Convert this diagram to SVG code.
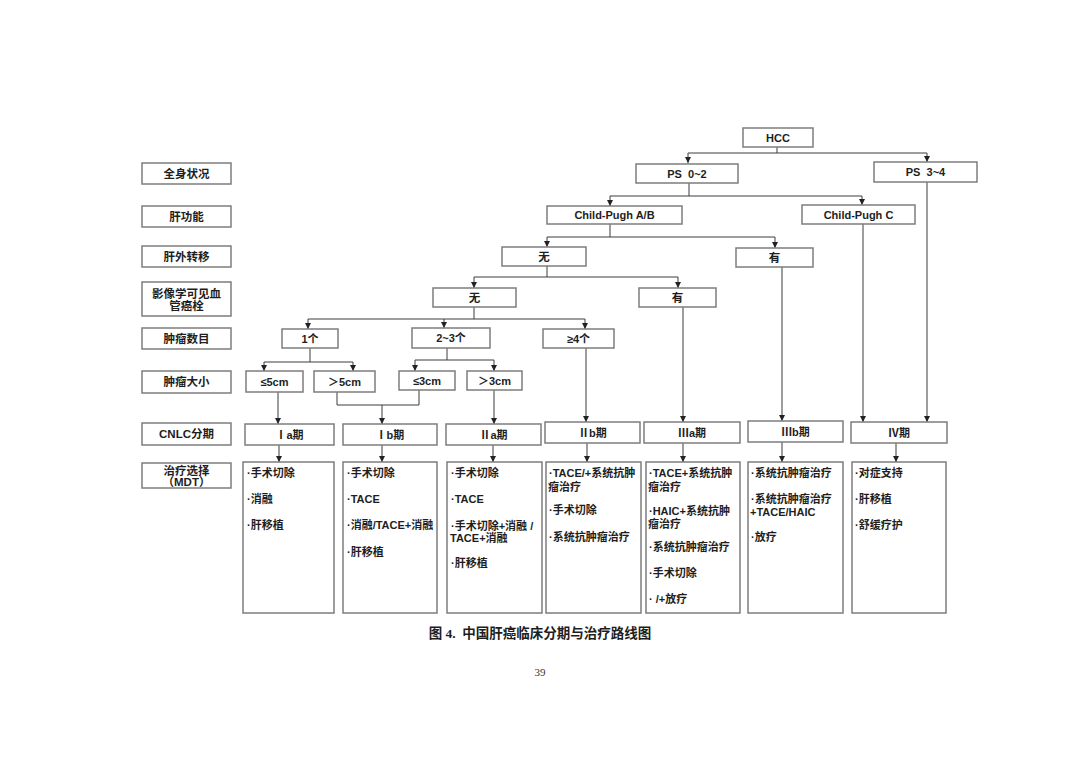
<svg xmlns="http://www.w3.org/2000/svg" width="1080" height="764" viewBox="0 0 1080 764">
<style>
.b{fill:#fff;stroke:#7d7d7d;stroke-width:1.5}
.t{font-family:"Liberation Sans","Noto Sans CJK SC",sans-serif;font-size:11px;font-weight:bold;fill:#1e1e1e;text-anchor:middle}
.c{font-family:"Liberation Sans","Noto Sans CJK SC",sans-serif;font-size:11.5px;font-weight:bold;fill:#1e1e1e;text-anchor:middle}
.x{font-family:"Liberation Sans","Noto Sans CJK SC",sans-serif;font-size:11px;font-weight:bold;fill:#1e1e1e}
.l{fill:none;stroke:#3c3c3c;stroke-width:1}
.a{fill:none;stroke:#3c3c3c;stroke-width:1;marker-end:url(#ar)}
.cap{font-family:"Liberation Serif","Noto Sans CJK SC",serif;font-size:13.5px;font-weight:bold;fill:#1e1e1e;text-anchor:middle}
.pg{font-family:"Liberation Serif",serif;font-size:11px;fill:#333;text-anchor:middle}
</style>
<defs>
<marker id="ar" viewBox="0 0 8 8" refX="8" refY="4" markerWidth="6" markerHeight="6" markerUnits="userSpaceOnUse" orient="auto">
<path d="M0,0 L8,4 L0,8 z" fill="#222"/>
</marker>
</defs>
<rect width="1080" height="764" fill="#fff"/>

<g id="row-labels">
<g id="lab-ps"><rect class="b" x="142" y="163" width="89" height="21"/><text class="c" x="186.5" y="177.5">全身状况</text></g>
<g id="lab-liver"><rect class="b" x="142" y="206" width="89" height="21"/><text class="c" x="186.5" y="220.5">肝功能</text></g>
<g id="lab-meta"><rect class="b" x="142" y="246" width="89" height="21"/><text class="c" x="186.5" y="260.5">肝外转移</text></g>
<g id="lab-vasc"><rect class="b" x="142" y="282" width="89" height="34"/><text class="c" x="186.5" y="298">影像学可见血</text><text class="c" x="186.5" y="310">管癌栓</text></g>
<g id="lab-num"><rect class="b" x="142" y="328" width="89" height="21"/><text class="c" x="186.5" y="342.5">肿瘤数目</text></g>
<g id="lab-size"><rect class="b" x="142" y="371" width="89" height="22"/><text class="c" x="186.5" y="386">肿瘤大小</text></g>
<g id="lab-cnlc"><rect class="b" x="142" y="423" width="89" height="22"/><text class="c" x="186.5" y="438">CNLC分期</text></g>
<g id="lab-mdt"><rect class="b" x="142" y="463" width="89" height="25"/><text class="c" x="186.5" y="474.5">治疗选择</text><text class="c" x="186.5" y="486">（MDT）</text></g>
</g>

<g id="connectors">
<path class="l" d="M777,147 V153 M688,153 H927"/>
<path class="a" d="M688,153 V163"/><path class="a" d="M927,153 V162"/>
<path class="l" d="M689,183 V196 M610,196 H862"/>
<path class="a" d="M610,196 V206"/><path class="a" d="M862,196 V205"/>
<path class="l" d="M610,224 V237 M547,237 H775"/>
<path class="a" d="M547,237 V247"/><path class="a" d="M775,237 V248"/>
<path class="l" d="M547,266 V277 M474,277 H678"/>
<path class="a" d="M474,277 V288"/><path class="a" d="M678,277 V288"/>
<path class="l" d="M474,307 V319 M308,319 H585"/>
<path class="a" d="M308,319 V329"/><path class="a" d="M444,319 V328"/><path class="a" d="M585,319 V329"/>
<path class="l" d="M310,348 V362 M264,362 H353"/>
<path class="a" d="M264,362 V371"/><path class="a" d="M353,362 V371"/>
<path class="l" d="M447,348 V360 M415,360 H494"/>
<path class="a" d="M415,360 V371"/><path class="a" d="M494,360 V371"/>
<path class="a" d="M278,392 V424"/>
<path class="l" d="M337,392 V405 H419 V390"/>
<path class="a" d="M382,405 V424"/>
<path class="a" d="M494,390 V424"/>
<path class="a" d="M586,348 V422"/>
<path class="a" d="M683,307 V422"/>
<path class="a" d="M782,267 V421"/>
<path class="a" d="M863,224 V422"/>
<path class="a" d="M927,182 V422"/>
<path class="a" d="M279,445 V462"/>
<path class="a" d="M382,445 V462"/>
<path class="a" d="M493,445 V462"/>
<path class="a" d="M587,443 V462"/>
<path class="a" d="M683,443 V462"/>
<path class="a" d="M782,442 V462"/>
<path class="a" d="M896,443 V462"/>
</g>

<g id="hcc"><rect class="b" x="743" y="128" width="70" height="19"/><text class="t" x="778" y="141.5">HCC</text></g>
<g id="ps02"><rect class="b" x="636" y="164" width="102" height="19"/><text class="t" x="687" y="177.5" xml:space="preserve">PS  0~2</text></g>
<g id="ps34"><rect class="b" x="874" y="162" width="103" height="20"/><text class="t" x="925.5" y="176" xml:space="preserve">PS  3~4</text></g>
<g id="cpab"><rect class="b" x="547" y="206" width="135" height="18"/><text class="t" x="614.5" y="219">Child-Pugh A/B</text></g>
<g id="cpc"><rect class="b" x="802" y="205" width="113" height="19"/><text class="t" x="858.5" y="218.5">Child-Pugh C</text></g>
<g id="meta-no"><rect class="b" x="502" y="247" width="84" height="19"/><text class="c" x="544" y="260.5">无</text></g>
<g id="meta-yes"><rect class="b" x="736" y="248" width="77" height="19"/><text class="c" x="774.5" y="261.5">有</text></g>
<g id="vasc-no"><rect class="b" x="433" y="288" width="83" height="19"/><text class="c" x="474.5" y="301.5">无</text></g>
<g id="vasc-yes"><rect class="b" x="639" y="288" width="77" height="19"/><text class="c" x="677.5" y="301.5">有</text></g>
<g id="n1"><rect class="b" x="282" y="329" width="56" height="19"/><text class="t" x="310" y="342.5">1个</text></g>
<g id="n23"><rect class="b" x="412" y="328" width="78" height="20"/><text class="t" x="451" y="342">2~3个</text></g>
<g id="n4"><rect class="b" x="543" y="329" width="71" height="19"/><text class="t" x="578.5" y="342.5">≥4个</text></g>
<g id="s5le"><rect class="b" x="246" y="371" width="57" height="21"/><text class="t" x="274.5" y="385.5">≤5cm</text></g>
<g id="s5gt"><rect class="b" x="314" y="371" width="61" height="21"/><text class="t" x="344.5" y="385.5">＞5cm</text></g>
<g id="s3le"><rect class="b" x="399" y="371" width="56" height="19"/><text class="t" x="427" y="384.5">≤3cm</text></g>
<g id="s3gt"><rect class="b" x="467" y="371" width="55" height="19"/><text class="t" x="494.5" y="384.5">＞3cm</text></g>

<g id="st-ia"><rect class="b" x="245" y="424" width="89" height="21"/><text class="t" x="289.5" y="438.5">Ⅰa期</text></g>
<g id="st-ib"><rect class="b" x="343" y="424" width="94" height="21"/><text class="t" x="390" y="438.5">Ⅰb期</text></g>
<g id="st-iia"><rect class="b" x="446" y="424" width="95" height="21"/><text class="t" x="493.5" y="438.5">Ⅱa期</text></g>
<g id="st-iib"><rect class="b" x="545" y="422" width="95" height="21"/><text class="t" x="592.5" y="436.5">Ⅱb期</text></g>
<g id="st-iiia"><rect class="b" x="644" y="422" width="96" height="21"/><text class="t" x="692" y="436.5">Ⅲa期</text></g>
<g id="st-iiib"><rect class="b" x="748" y="421" width="95" height="21"/><text class="t" x="795.5" y="435.5">Ⅲb期</text></g>
<g id="st-iv"><rect class="b" x="851" y="422" width="96" height="21"/><text class="t" x="899" y="436.5">Ⅳ期</text></g>

<g id="tx-ia"><rect class="b" x="243" y="462" width="91" height="151"/>
<text class="x" x="247" y="477">·手术切除</text><text class="x" x="247" y="503">·消融</text><text class="x" x="247" y="529">·肝移植</text></g>
<g id="tx-ib"><rect class="b" x="343" y="462" width="94" height="151"/>
<text class="x" x="347" y="477">·手术切除</text><text class="x" x="347" y="503">·TACE</text><text class="x" x="347" y="529">·消融/TACE+消融</text><text class="x" x="347" y="556">·肝移植</text></g>
<g id="tx-iia"><rect class="b" x="447" y="462" width="95" height="151"/>
<text class="x" x="451" y="477">·手术切除</text><text class="x" x="451" y="503">·TACE</text><text class="x" x="451" y="530">·手术切除+消融 /</text><text class="x" x="450" y="542">TACE+消融</text><text class="x" x="451" y="567">·肝移植</text></g>
<g id="tx-iib"><rect class="b" x="546" y="462" width="95" height="151"/>
<text class="x" x="549" y="477">·TACE/+系统抗肿</text><text class="x" x="548" y="491">瘤治疗</text><text class="x" x="549" y="514">·手术切除</text><text class="x" x="549" y="541">·系统抗肿瘤治疗</text></g>
<g id="tx-iiia"><rect class="b" x="646" y="462" width="94" height="151"/>
<text class="x" x="649" y="477">·TACE+系统抗肿</text><text class="x" x="648" y="491">瘤治疗</text><text class="x" x="649" y="515">·HAIC+系统抗肿</text><text class="x" x="648" y="528">瘤治疗</text><text class="x" x="649" y="551">·系统抗肿瘤治疗</text><text class="x" x="649" y="577">·手术切除</text><text class="x" x="649" y="603" xml:space="preserve">· /+放疗</text></g>
<g id="tx-iiib"><rect class="b" x="748" y="462" width="95" height="151"/>
<text class="x" x="751" y="477">·系统抗肿瘤治疗</text><text class="x" x="751" y="503">·系统抗肿瘤治疗</text><text class="x" x="750" y="516">+TACE/HAIC</text><text class="x" x="751" y="541">·放疗</text></g>
<g id="tx-iv"><rect class="b" x="852" y="462" width="94" height="151"/>
<text class="x" x="855" y="477">·对症支持</text><text class="x" x="855" y="503">·肝移植</text><text class="x" x="855" y="529">·舒缓疗护</text></g>

<text class="cap" x="540" y="638" xml:space="preserve">图 4.  中国肝癌临床分期与治疗路线图</text>
<text class="pg" x="540" y="676">39</text>
</svg>
